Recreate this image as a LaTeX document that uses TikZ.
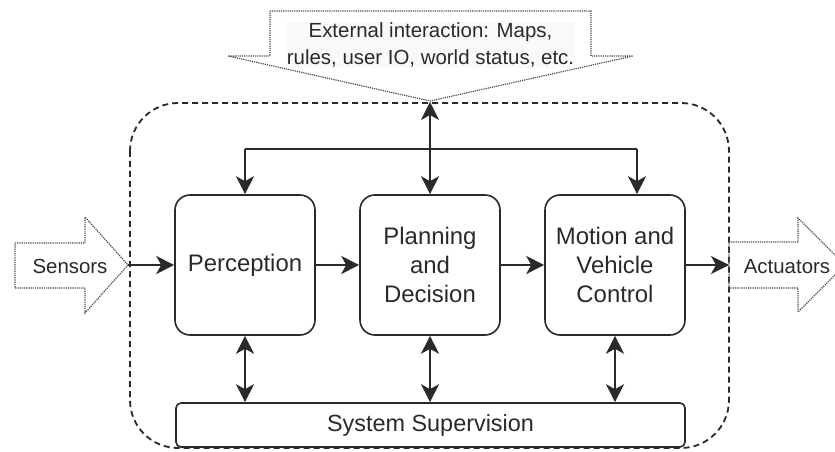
\documentclass[tikz,border=0pt]{standalone}
\usepackage{fontspec}
\setmainfont{Liberation Sans}
\usetikzlibrary{arrows.meta}
\definecolor{ink}{HTML}{2A2A2A}
\begin{document}
\begin{tikzpicture}[x=1bp,y=-1bp,
  blk/.style={draw=ink, line width=1.6bp, rounded corners=15bp, minimum width=140bp, minimum height=140bp, align=center, font=\fontsize{24}{29.5}\selectfont, text=ink, inner sep=0pt},
  tip/.tip={Stealth[length=18bp,width=18bp,inset=5bp]},
  conn/.style={line width=1.6bp, draw=ink, -tip},
  dconn/.style={line width=1.6bp, draw=ink, tip-tip},
  plain/.style={line width=1.6bp, draw=ink},
  blockarrow/.style={draw=ink!85, line width=1.2bp, densely dotted},
  lbl/.style={font=\fontsize{20.5}{27}\selectfont, text=ink, align=center, inner sep=1pt},
  outline/.style={draw=ink, line width=1.8bp, dash pattern=on 6bp off 4bp, rounded corners=48bp}
]
\useasboundingbox (0,0) rectangle (835,452);
\fill[white] (0,0) rectangle (835,452);

% dashed outline
\draw[outline] (130,103) rectangle (729,448);

% external interaction block arrow
\draw[blockarrow] (270,11) -- (591,11) -- (591,56) -- (633,56) -- (430,101) -- (228,56) -- (270,56) -- cycle;
\node[lbl, fill=gray!5] (ext) at (430.5,45) {External interaction: Maps,\\rules, user IO, world status, etc.};

% sensors block arrow
\draw[blockarrow] (15,243) -- (85,243) -- (85,217) -- (128,265) -- (85,313) -- (85,288) -- (15,288) -- cycle;
\node[lbl] (sens) at (70,266) {Sensors};

% actuators block arrow
\begin{scope}
\clip (0,0) rectangle (835,452);
\draw[blockarrow] (729,242) -- (798,242) -- (798,218) -- (845,265) -- (798,312) -- (798,288) -- (729,288) -- cycle;
\end{scope}
\node[lbl] (act) at (787,267) {Actuators};

% main blocks
\node[blk] (perc) at (245,265) {Perception};
\node[blk] (plan) at (430,265) {Planning\\and\\Decision};
\node[blk] (moti) at (615,265) {Motion and\\Vehicle\\Control};
\node[draw=ink, line width=1.6bp, rounded corners=5bp, fill=white, minimum width=509bp, minimum height=44bp, font=\fontsize{23.5}{28}\selectfont, text=ink, inner sep=0pt] (sup) at (430.5,425) {System Supervision};

% coordinates
\coordinate (senstip) at (128,265);
\coordinate (acttail) at (729,265);
\coordinate (exttip) at (430,102);
\coordinate (bus1) at (245,149);
\coordinate (bus3) at (637,149);

% horizontal flow
\draw[conn] (senstip) -- (perc.west);
\draw[conn] (perc.east) -- (plan.west);
\draw[conn] (plan.east) -- (moti.west);
\draw[conn] (moti.east) -- (acttail);

% top bus
\draw[dconn] (exttip) -- (plan.north);
\draw[plain] (bus1) -- (bus3);
\draw[conn] (bus1) -- (perc.north);
\draw[conn] (bus3) -- (bus3 |- moti.north);

% bottom links
\draw[dconn] (perc.south) -- (perc.south |- sup.north);
\draw[dconn] (plan.south) -- (plan.south |- sup.north);
\draw[dconn] (moti.south) -- (moti.south |- sup.north);
\end{tikzpicture}
\end{document}
